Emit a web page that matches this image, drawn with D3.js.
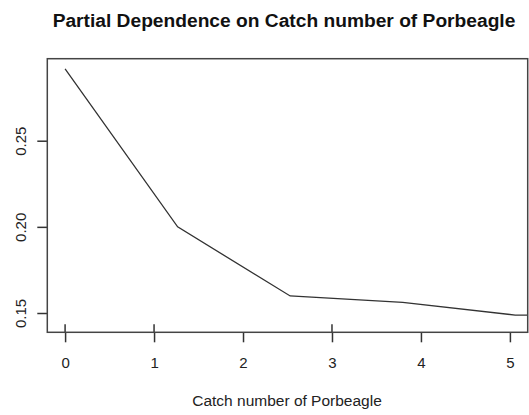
<!DOCTYPE html>
<html>
<head>
<meta charset="utf-8">
<script src="https://cdn.jsdelivr.net/npm/d3@7"></script>
<style>
  body { margin: 0; background: #fff; }
  svg { display: block; }
  text { font-family: "Liberation Sans", Arial, sans-serif; fill: #222; }
</style>
</head>
<body>
<div id="viz"></div>
<script>
// partial dependence grid (x) and response (y)
var gridX = [0, 1.265, 2.53, 3.795, 5.06, 6.325];
var pdY = [0.2917, 0.2000, 0.1599, 0.1562, 0.1488, 0.1482];
// deciles of the data, drawn as a rug
var rugX = [0, 1, 3];
var xTicks = [0, 1, 2, 3, 4, 5];
var yTicks = [0.15, 0.20, 0.25];

var canw = 529, canh = 415;
var padL = 47.3, padR = 527.7, padT = 58.7, padB = 332.3;

var s = d3.select("#viz").append("svg")
    .attr("width", canw)
    .attr("height", canh);

var x = d3.scaleLinear().domain([-0.2, 5.2]).range([padL, padR]);
var y = d3.scaleLinear().domain([0.1388, 0.2976]).range([padB, padT]);

s.append("defs").append("clipPath").attr("id", "plotclip")
  .append("rect")
    .attr("x", padL).attr("y", padT)
    .attr("width", padR - padL).attr("height", padB - padT);

// the curve, clipped to the plot region like base R
var line = d3.line()
    .x(function(d, i){ return x(gridX[i]); })
    .y(function(d){ return y(d); });

s.append("path")
    .datum(pdY)
    .attr("clip-path", "url(#plotclip)")
    .attr("d", line)
    .style("fill", "none")
    .style("stroke", "#333")
    .style("stroke-width", 1.3);

// rug marks inside the box
s.selectAll(".rug").data(rugX).enter().append("line")
    .attr("class", "rug")
    .attr("x1", function(d){ return x(d); })
    .attr("x2", function(d){ return x(d); })
    .attr("y1", padB - 8)
    .attr("y2", padB)
    .style("stroke", "#333")
    .style("stroke-width", 1.5);

// axes
var xAxis = s.append("g")
    .attr("transform", "translate(0," + padB + ")")
    .call(d3.axisBottom(x).tickValues(xTicks).tickSize(10).tickPadding(14)
        .tickFormat(d3.format("d")));
xAxis.select(".domain").remove();
xAxis.selectAll("text").style("font-size", "15px").style("fill", "#222")
    .attr("dy", null).attr("y", 36);
xAxis.selectAll("line").style("stroke", "#333").style("stroke-width", 1.5);

var yAxis = s.append("g")
    .attr("transform", "translate(" + padL + ",0)")
    .call(d3.axisLeft(y).tickValues(yTicks).tickSize(10).tickFormat(d3.format(".2f")));
yAxis.select(".domain").remove();
yAxis.selectAll("line").style("stroke", "#333").style("stroke-width", 1.5);
yAxis.selectAll("text")
    .attr("x", null).attr("dy", null)
    .attr("transform", "translate(-27,0) rotate(-90)")
    .attr("text-anchor", "middle")
    .attr("dy", "0.35em")
    .style("font-size", "15px")
    .style("fill", "#222");

// box
s.append("rect")
    .attr("x", padL).attr("y", padT)
    .attr("width", padR - padL).attr("height", padB - padT)
    .style("fill", "none")
    .style("stroke", "#444")
    .style("stroke-width", 1.5);

// titles
s.append("text")
    .attr("x", 284)
    .attr("y", 27)
    .attr("text-anchor", "middle")
    .style("font-size", "19.2px")
    .style("font-weight", "bold")
    .style("fill", "#111")
    .text("Partial Dependence on Catch number of Porbeagle");

s.append("text")
    .attr("x", 287)
    .attr("y", 405.5)
    .attr("text-anchor", "middle")
    .style("font-size", "15.5px")
    .text("Catch number of Porbeagle");
</script>
</body>
</html>
